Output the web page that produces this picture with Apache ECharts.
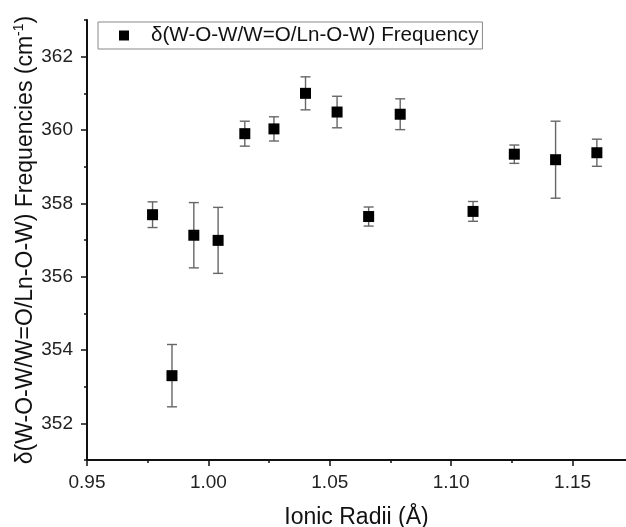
<!DOCTYPE html>
<html>
<head>
<meta charset="utf-8">
<title>Ionic radii vs frequency</title>
<script src="https://cdn.jsdelivr.net/npm/echarts@6/dist/echarts.min.js"></script>
<style>
  html, body { margin: 0; padding: 0; background: #fff; }
  #chart { width: 626px; height: 527px; }
</style>
</head>
<body>
<div id="chart"></div>
<script>
// ionic radii (Å)
const radii = [0.977, 0.985, 0.994, 1.004, 1.015, 1.027, 1.040, 1.053, 1.066, 1.079, 1.109, 1.126, 1.143, 1.160];
// frequency (cm-1)
const freq = [357.69, 353.30, 357.13, 356.99, 359.90, 360.03, 361.00, 360.49, 357.64, 360.43, 357.78, 359.34, 359.19, 359.38];
// error (±)
const errs = [0.35, 0.85, 0.89, 0.90, 0.34, 0.33, 0.45, 0.43, 0.26, 0.42, 0.27, 0.25, 1.05, 0.37];

const xMajor = [0.95, 1.00, 1.05, 1.10, 1.15];
const xMinor = [0.975, 1.025, 1.075, 1.125];
const yMajor = [352, 354, 356, 358, 360, 362];
const yMinor = [351, 353, 355, 357, 359, 361, 363];

const seriesName = 'δ(W-O-W/W=O/Ln-O-W) Frequency';
const font = 'Liberation Sans, Arial, sans-serif';

const chart = echarts.init(document.getElementById('chart'));

const points = radii.map((x, i) => [x, freq[i]]);
const bars = radii.map((x, i) => [x, freq[i] - errs[i], freq[i] + errs[i]]);

const tickStyle = { color: '#111', width: 1.5 };

const xBase = {
    type: 'value',
    min: 0.95,
    max: 1.172,
    position: 'bottom',
    splitLine: { show: false },
    axisLine: { show: true, onZero: false, lineStyle: { color: '#111', width: 2 } }
};

const yBase = {
    type: 'value',
    min: 351,
    max: 363,
    position: 'left',
    splitLine: { show: false },
    axisLine: { show: true, onZero: false, lineStyle: { color: '#111', width: 2 } }
};

const option = {
    animation: false,
    backgroundColor: '#fff',
    grid: { left: 87, right: 0, top: 20, bottom: 67, containLabel: false, outerBoundsMode: 'none' },
    legend: {
        data: [seriesName],
        left: 98,
        top: 22,
        orient: 'horizontal',
        itemWidth: 10,
        itemHeight: 10,
        padding: [3, 4, 3, 21],
        borderColor: '#888',
        borderWidth: 1,
        textStyle: { fontFamily: font, fontSize: 20.6, color: '#111', padding: [0, 0, 0, 17] }
    },
    xAxis: [
        Object.assign({}, xBase, {
            name: 'Ionic Radii (Å)',
            nameLocation: 'middle',
            nameGap: 46,
            nameMoveOverlap: false,
            nameTextStyle: { fontFamily: font, fontSize: 23, color: '#111' },
            axisTick: { length: 6, customValues: xMajor, lineStyle: tickStyle },
            axisLabel: {
                margin: 13,
                fontFamily: font,
                fontSize: 19,
                color: '#222',
                customValues: xMajor,
                formatter: v => v.toFixed(2)
            }
        }),
        Object.assign({}, xBase, {
            axisLine: { show: false, onZero: false },
            axisTick: { length: 3, customValues: xMinor, lineStyle: tickStyle },
            axisLabel: { show: false }
        })
    ],
    yAxis: [
        Object.assign({}, yBase, {
            name: '{a|δ(W-O-W/W=O/Ln-O-W) Frequencies (cm}{b|-1}{a|)}',
            nameLocation: 'middle',
            nameGap: 48,
            nameMoveOverlap: false,
            nameTextStyle: {
                rich: {
                    a: { fontFamily: font, fontSize: 23, color: '#111', lineHeight: 27 },
                    b: { fontFamily: font, fontSize: 14, color: '#111', lineHeight: 12, verticalAlign: 'top' }
                }
            },
            axisTick: { length: 6, customValues: yMajor, lineStyle: tickStyle },
            axisLabel: {
                margin: 14,
                fontFamily: font,
                fontSize: 19,
                color: '#222',
                customValues: yMajor
            }
        }),
        Object.assign({}, yBase, {
            axisLine: { show: false, onZero: false },
            axisTick: { length: 3, customValues: yMinor, lineStyle: tickStyle },
            axisLabel: { show: false }
        })
    ],
    series: [
        {
            name: 'err',
            type: 'custom',
            z: 1,
            silent: true,
            data: bars,
            renderItem: (params, api) => {
                const lo = api.coord([api.value(0), api.value(1)]);
                const hi = api.coord([api.value(0), api.value(2)]);
                const half = 5;
                const style = { stroke: '#666', lineWidth: 1.4 };
                return {
                    type: 'group',
                    children: [
                        { type: 'line', shape: { x1: lo[0], y1: lo[1], x2: hi[0], y2: hi[1] }, style },
                        { type: 'line', shape: { x1: lo[0] - half, y1: lo[1], x2: lo[0] + half, y2: lo[1] }, style },
                        { type: 'line', shape: { x1: hi[0] - half, y1: hi[1], x2: hi[0] + half, y2: hi[1] }, style }
                    ]
                };
            }
        },
        {
            name: seriesName,
            type: 'scatter',
            z: 3,
            symbol: 'rect',
            symbolSize: 11,
            itemStyle: { color: '#000', opacity: 1 },
            data: points
        }
    ]
};

chart.setOption(option);
</script>
</body>
</html>
